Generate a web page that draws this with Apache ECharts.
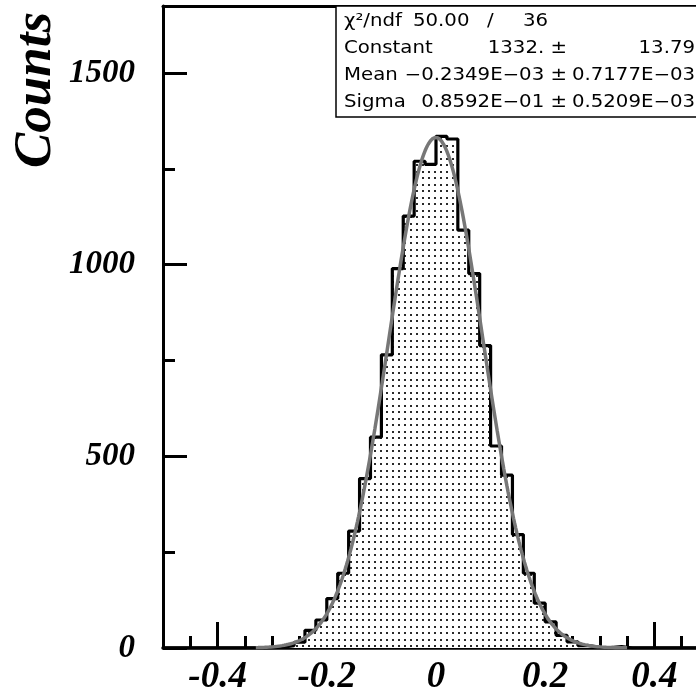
<!DOCTYPE html>
<html>
<head>
<meta charset="utf-8">
<script src="https://cdn.jsdelivr.net/npm/echarts@6/dist/echarts.min.js"></script>
<style>
  html, body { margin: 0; padding: 0; background: #fff; }
  #chart { width: 696px; height: 695px; }
</style>
</head>
<body>
<div id="chart"></div>
<script>
// Histogram binning: 50 bins of width 0.02 from -0.5 to 0.5
const binStart = -0.5;
const binWidth = 0.02;
const counts = [
  0, 0, 0, 0, 0, 0, 0, 0, 0, 1,
  2, 6, 15, 46, 73, 129, 195, 305, 442, 550,
  765, 990, 1127, 1270, 1262, 1335, 1328, 1090, 977, 789,
  527, 451, 296, 195, 117, 68, 33, 16, 6, 2,
  1, 4, 0, 0, 0, 0, 0, 0, 0, 0
];

// Gaussian fit results (as printed in the stats box)
const fitConstant = 1332.0;
const fitMean = -0.2349e-03;
const fitSigma = 0.8592e-01;
const fitRange = [-0.33, 0.35];

// Axis ticks and labels
const xMajorTicks = [-0.4, -0.2, 0, 0.2, 0.4];
const xTickLabels = ['-0.4', '-0.2', '0', '0.2', '0.4'];
const xMinorTicks = [-0.45, -0.35, -0.3, -0.25, -0.15, -0.1, -0.05, 0.05, 0.1, 0.15, 0.25, 0.3, 0.35, 0.45];
const yMajorTicks = [0, 500, 1000, 1500];
const yTickLabels = ['0', '500', '1000', '1500'];
const yMinorTicks = [250, 750, 1250];

// Stats box rows
const statsRows = [
  { label: 'χ²/ndf', value: '50.00', sep: '/', ndf: '36' },
  { label: 'Constant', value: '1332. ±', error: '13.79' },
  { label: 'Mean', value: '−0.2349E−03 ±', error: '0.7177E−03' },
  { label: 'Sigma', value: '0.8592E−01 ±', error: '0.5209E−03' }
];

// Step outline data: left edge of every bin, plus the right edge of the last one
const histData = counts.map((c, i) => [binStart + i * binWidth, c]);
histData.push([binStart + counts.length * binWidth, counts[counts.length - 1]]);

// Fitted gaussian curve sampled across the fit range
const fitData = [];
for (let x = fitRange[0]; x <= fitRange[1] + 1e-9; x += 0.002) {
  const z = (x - fitMean) / fitSigma;
  fitData.push([x, fitConstant * Math.exp(-0.5 * z * z)]);
}

// Dotted fill pattern
const pat = document.createElement('canvas');
pat.width = 6; pat.height = 13;
const pc = pat.getContext('2d');
pc.fillStyle = '#fff';
pc.fillRect(0, 0, 6, 13);
pc.fillStyle = '#2a2a2a';
pc.fillRect(2, 2, 2, 2);
pc.fillRect(2, 8, 2, 2);

const labelFont = {
  fontFamily: 'Liberation Serif',
  fontStyle: 'italic',
  fontWeight: 'bold',
  color: '#000'
};

const chart = echarts.init(document.getElementById('chart'), null, { renderer: 'canvas' });

const statFont = '17px "DejaVu Sans"';
const statScale = 1.16;
const rowY = [22, 49, 76, 103];
const statTexts = [];
statsRows.forEach((r, i) => {
  const y = rowY[i];
  const mk = (text, x, align) => ({
    type: 'text', x: x, y: y, scaleX: statScale, z: 102,
    style: { text: text, font: statFont, fill: '#000',
      align: align, textAlign: align, verticalAlign: 'middle', textVerticalAlign: 'middle' }
  });
  statTexts.push(mk(r.label, 344, 'left'));
  if (r.ndf !== undefined) {
    statTexts.push(mk(r.value, 413, 'left'));
    statTexts.push(mk(r.sep, 487, 'left'));
    statTexts.push(mk(r.ndf, 523, 'left'));
  } else {
    statTexts.push(mk(r.value, 567, 'right'));
    statTexts.push(mk(r.error, 695, 'right'));
  }
});

const option = {
  backgroundColor: '#fff',
  animation: false,
  grid: { left: 163, right: -13, top: 6, bottom: 47, containLabel: false, outerBoundsMode: 'none' },
  xAxis: [
    {
      type: 'value', min: -0.5, max: 0.5, position: 'bottom',
      axisLine: { show: true, onZero: false, lineStyle: { color: '#000', width: 3.5 } },
      axisTick: { show: true, inside: true, length: 26, customValues: xMajorTicks, lineStyle: { color: '#000', width: 3 } },
      axisLabel: Object.assign({
        show: true, customValues: xMajorTicks, fontSize: 37, margin: 11,
        formatter: v => xTickLabels[xMajorTicks.findIndex(t => Math.abs(t - v) < 1e-9)]
      }, labelFont),
      splitLine: { show: false }
    },
    {
      type: 'value', min: -0.5, max: 0.5, position: 'bottom',
      axisLine: { show: false, onZero: false },
      axisTick: { show: true, inside: true, length: 12, customValues: xMinorTicks, lineStyle: { color: '#000', width: 3 } },
      axisLabel: { show: false },
      splitLine: { show: false }
    },
    {
      type: 'value', min: -0.5, max: 0.5, position: 'top',
      axisLine: { show: true, onZero: false, lineStyle: { color: '#000', width: 3 } },
      axisTick: { show: false },
      axisLabel: { show: false },
      splitLine: { show: false }
    }
  ],
  yAxis: [
    {
      type: 'value', min: 0, max: 1675, position: 'left',
      axisLine: { show: true, onZero: false, lineStyle: { color: '#000', width: 3 } },
      axisTick: { show: true, inside: true, length: 24, customValues: yMajorTicks, lineStyle: { color: '#000', width: 3 } },
      axisLabel: Object.assign({
        show: true, customValues: yMajorTicks, fontSize: 33, margin: 28,
        formatter: v => yTickLabels[yMajorTicks.indexOf(v)]
      }, labelFont),
      splitLine: { show: false }
    },
    {
      type: 'value', min: 0, max: 1675, position: 'left',
      axisLine: { show: false, onZero: false },
      axisTick: { show: true, inside: true, length: 12, customValues: yMinorTicks, lineStyle: { color: '#000', width: 3 } },
      axisLabel: { show: false },
      splitLine: { show: false }
    }
  ],
  series: [
    {
      type: 'line', name: 'hist', xAxisIndex: 0, yAxisIndex: 0,
      data: histData, step: 'end', showSymbol: false, symbol: 'none',
      lineStyle: { color: '#000', width: 3.2 },
      areaStyle: { color: { image: pat, repeat: 'repeat' }, opacity: 1 },
      z: 2
    },
    {
      type: 'line', name: 'gaus', xAxisIndex: 0, yAxisIndex: 0,
      data: fitData, showSymbol: false, symbol: 'none', smooth: false,
      lineStyle: { color: '#777777', width: 3.5 },
      z: 3
    }
  ],
  graphic: [
    {
      type: 'text', x: 36, y: 90, rotation: Math.PI / 2, z: 100,
      style: { text: 'Counts', font: 'italic bold 53px "Liberation Serif"', fill: '#000',
        align: 'center', textAlign: 'center', verticalAlign: 'middle', textVerticalAlign: 'middle' }
    },
    {
      type: 'rect', z: 101,
      shape: { x: 336, y: 6, width: 420, height: 111 },
      style: { fill: '#fff', stroke: '#000', lineWidth: 1.5 }
    }
  ].concat(statTexts)
};

chart.setOption(option);
</script>
</body>
</html>
